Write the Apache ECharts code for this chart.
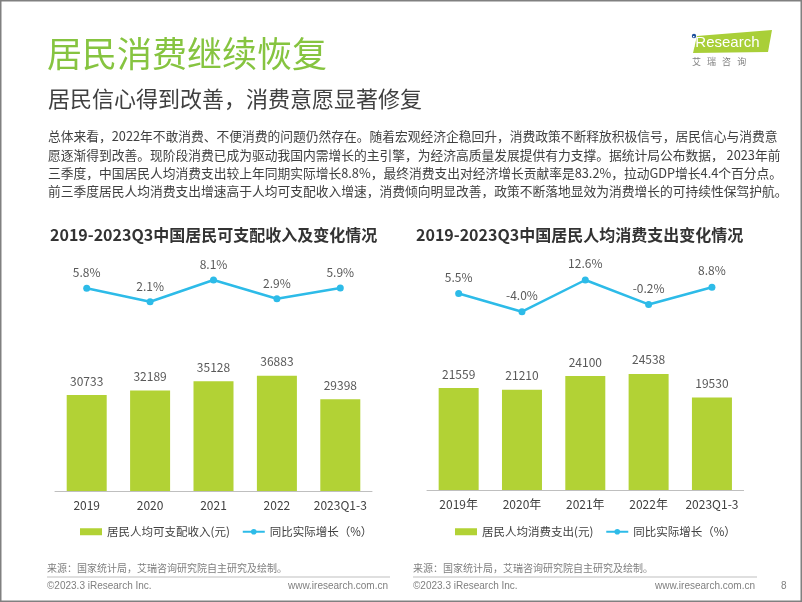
<!DOCTYPE html>
<html><head><meta charset="utf-8">
<script src="https://cdn.jsdelivr.net/npm/echarts@6/dist/echarts.min.js"></script>
<style>html,body{margin:0;padding:0;background:#fff}#c{width:802px;height:602px}</style>
</head><body><div id="c"></div>
<script>
// ---- data ----
const incomeCategories = ['2019', '2020', '2021', '2022', '2023Q1-3'];
const incomeValues = [30733, 32189, 35128, 36883, 29398];
const incomeGrowth = [5.8, 2.1, 8.1, 2.9, 5.9];
const spendCategories = ['2019年', '2020年', '2021年', '2022年', '2023Q1-3'];
const spendValues = [21559, 21210, 24100, 24538, 19530];
const spendGrowth = [5.5, -4.0, 12.6, -0.2, 8.8];
const incomeBarName = '居民人均可支配收入(元)';
const spendBarName = '居民人均消费支出(元)';
const growthName = '同比实际增长（%）';
const pageTitle = '居民消费继续恢复';
const pageSubtitle = '居民信心得到改善，消费意愿显著修复';
const bodyLines = [
  '总体来看，2022年不敢消费、不便消费的问题仍然存在。随着宏观经济企稳回升，消费政策不断释放积极信号，居民信心与消费意',
  '愿逐渐得到改善。现阶段消费已成为驱动我国内需增长的主引擎，为经济高质量发展提供有力支撑。据统计局公布数据， 2023年前',
  '三季度，中国居民人均消费支出较上年同期实际增长8.8%，最终消费支出对经济增长贡献率是83.2%，拉动GDP增长4.4个百分点。',
  '前三季度居民人均消费支出增速高于人均可支配收入增速，消费倾向明显改善，政策不断落地显效为消费增长的可持续性保驾护航。'
];
const leftChartTitle = '2019-2023Q3中国居民可支配收入及变化情况';
const rightChartTitle = '2019-2023Q3中国居民人均消费支出变化情况';
const sourceText = '来源：国家统计局，艾瑞咨询研究院自主研究及绘制。';
const copyrightText = '©2023.3 iResearch Inc.';
const siteText = 'www.iresearch.com.cn';
const pageNo = '8';

// ---- styles ----
const FONT = '"Noto Sans CJK SC", "Noto Sans", sans-serif';
const GREEN = '#B2D235';
const BLUE = '#2DBBE8';
const TXT = '#595959';

const chart = echarts.init(document.getElementById('c'), null, {renderer: 'canvas'});

function barSeries(name, data, xi, yi) {
  return {
    name, type: 'bar', xAxisIndex: xi, yAxisIndex: yi, data, barWidth: 40,
    itemStyle: {color: GREEN},
    label: {show: true, position: 'top', distance: 8, color: TXT, fontSize: 12, fontFamily: FONT},
    silent: true
  };
}
function lineSeries(name, data, xi, yi, dist) {
  return {
    name, type: 'line', xAxisIndex: xi, yAxisIndex: yi, data,
    symbol: 'circle', symbolSize: 7,
    lineStyle: {color: BLUE, width: 2.5}, itemStyle: {color: BLUE},
    label: {show: true, position: 'top', distance: dist, color: TXT, fontSize: 12, fontFamily: FONT,
      formatter: p => p.value.toFixed(1) + '%'},
    silent: true
  };
}
function catAxis(gi, cats, show) {
  return {
    type: 'category', gridIndex: gi, data: cats, show,
    axisLine: {lineStyle: {color: '#BFBFBF', width: 1}},
    axisTick: {show: false},
    axisLabel: {color: '#404040', fontSize: 12, margin: 8, fontFamily: FONT, interval: 0}
  };
}
function valAxis(gi, min, max) {
  return {type: 'value', gridIndex: gi, min, max, show: false, splitLine: {show: false}};
}

const texts = [];
texts.push({type: 'text', left: 47, top: 36, style: {text: pageTitle, fill: '#86C440', font: '35px ' + FONT}});
texts.push({type: 'text', left: 48, top: 88, style: {text: pageSubtitle, fill: '#404040', font: '22px ' + FONT}});
bodyLines.forEach((t, i) => {
  texts.push({type: 'text', left: 48, top: 130 + i * 18.3, style: {text: t, fill: '#404040', font: '12.75px ' + FONT}});
});
texts.push({type: 'text', left: 50, top: 227, style: {text: leftChartTitle, fill: '#333', font: 'bold 16px ' + FONT}});
texts.push({type: 'text', left: 416, top: 227, style: {text: rightChartTitle, fill: '#333', font: 'bold 16px ' + FONT}});
// footer
[[47, 390], [413, 757]].forEach(([x0, x1]) => {
  texts.push({type: 'text', left: x0, top: 563, style: {text: sourceText, fill: '#7F7F7F', font: '10px ' + FONT}});
  texts.push({type: 'line', shape: {x1: x0, y1: 577, x2: x1, y2: 577}, style: {stroke: '#BFBFBF', lineWidth: 1}});
  texts.push({type: 'text', left: x0, top: 581, style: {text: copyrightText, fill: '#7F7F7F', font: '10px "Liberation Sans", Arial, sans-serif'}});
  texts.push({type: 'text', right: 802 - x1 + 2, top: 581, style: {text: siteText, fill: '#7F7F7F', font: '10px "Liberation Sans", Arial, sans-serif'}});
});
texts.push({type: 'text', left: 781, top: 581, style: {text: pageNo, fill: '#7F7F7F', font: '10px "Liberation Sans", Arial, sans-serif'}});
// logo
texts.push({type: 'polygon', shape: {points: [[697, 36], [772, 30], [768, 52], [693, 53]]}, style: {fill: '#A9CF38'}});
texts.push({type: 'circle', shape: {cx: 694, cy: 36, r: 2.2}, style: {fill: '#1D4F9C'}});
texts.push({type: 'text', left: 692, top: 35, style: {text: 'iResearch', fill: '#fff', font: '15px "Liberation Sans", Arial, sans-serif'}});
texts.push({type: 'text', left: 692, top: 57, style: {text: '艾   瑞   咨   询', fill: '#7F7F7F', font: '9px ' + FONT}});
// border
texts.push({type: 'rect', shape: {x: 0.5, y: 0.5, width: 801, height: 601}, style: {fill: 'none', stroke: '#808080', lineWidth: 2}});

const legendText = {color: '#404040', fontSize: 11.5, fontFamily: FONT};
chart.setOption({
  backgroundColor: '#fff',
  animation: false,
  textStyle: {fontFamily: FONT},
  grid: [
    {left: 55, width: 317, top: 366, height: 125},
    {left: 55, width: 317, top: 280, height: 21.7},
    {left: 427, width: 316.6, top: 371.7, height: 118.3},
    {left: 427, width: 316.6, top: 280, height: 31.7}
  ],
  xAxis: [
    catAxis(0, incomeCategories, true),
    catAxis(1, incomeCategories, false),
    catAxis(2, spendCategories, true),
    catAxis(3, spendCategories, false)
  ],
  yAxis: [
    valAxis(0, 0, 40000),
    valAxis(1, 2.1, 8.1),
    valAxis(2, 0, 25000),
    valAxis(3, -4, 12.6)
  ],
  legend: [
    {left: 75, top: 521, itemWidth: 22, itemHeight: 7, itemGap: 12, textStyle: legendText,
     data: [{name: incomeBarName, icon: 'rect'}, {name: growthName}], selectedMode: false},
    {left: 450, top: 521, itemWidth: 22, itemHeight: 7, itemGap: 12, textStyle: legendText,
     data: [{name: spendBarName, icon: 'rect'}, {name: growthName}], selectedMode: false}
  ],
  series: [
    barSeries(incomeBarName, incomeValues, 0, 0),
    lineSeries(growthName, incomeGrowth, 1, 1, 6),
    barSeries(spendBarName, spendValues, 2, 2),
    lineSeries(growthName, spendGrowth, 3, 3, 7)
  ],
  graphic: texts
});
</script></body></html>
